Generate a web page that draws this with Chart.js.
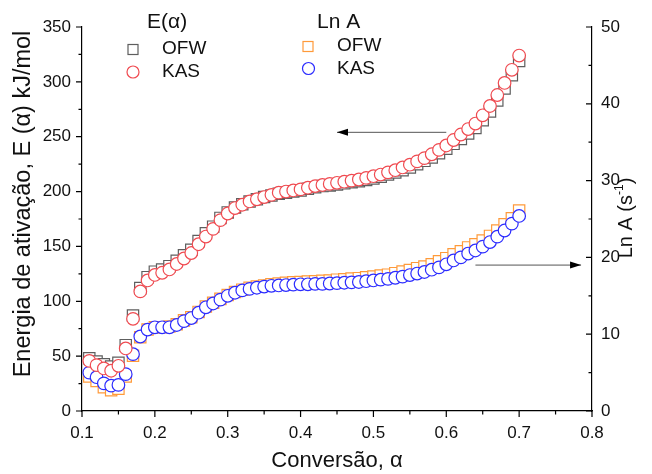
<!DOCTYPE html>
<html>
<head>
<meta charset="utf-8">
<script src="https://cdn.jsdelivr.net/npm/chart.js@4.4.0/dist/chart.umd.min.js"></script>
<style>
  html, body { margin: 0; padding: 0; background: #fff; }
</style>
</head>
<body>
<canvas id="chart" width="652" height="474"></canvas>
<script>
// Conversion values (alpha)
const alpha = [0.11, 0.12, 0.13, 0.14, 0.15, 0.16, 0.17, 0.18, 0.19, 0.20,
  0.21, 0.22, 0.23, 0.24, 0.25, 0.26, 0.27, 0.28, 0.29, 0.30,
  0.31, 0.32, 0.33, 0.34, 0.35, 0.36, 0.37, 0.38, 0.39, 0.40,
  0.41, 0.42, 0.43, 0.44, 0.45, 0.46, 0.47, 0.48, 0.49, 0.50,
  0.51, 0.52, 0.53, 0.54, 0.55, 0.56, 0.57, 0.58, 0.59, 0.60,
  0.61, 0.62, 0.63, 0.64, 0.65, 0.66, 0.67, 0.68, 0.69, 0.70];

// Activation energy E(alpha), kJ/mol
const eOFW = [48, 45, 42.5, 40.5, 44, 60, 87, 112, 122, 127,
  129, 132, 137, 142, 147, 155, 162, 168, 176, 181,
  185.5, 188.5, 191, 193, 195, 196.5, 198, 199, 200, 201,
  202.5, 204, 205, 205.5, 206.5, 207.5, 208.5, 209.5, 210.5, 212,
  213.5, 215.5, 217.5, 219.5, 222, 225, 228, 231, 235, 239,
  243.5, 248, 253, 258, 265, 273, 283, 294, 306, 319];
const eKAS = [45.7, 41.8, 38.8, 36.7, 41.2, 57, 84, 109, 119, 124,
  126, 129, 134, 139, 144, 152, 159, 166, 174, 180,
  185, 188, 191, 193, 195, 197, 199, 200, 201, 202,
  203.5, 205, 206, 207, 208, 209, 210, 211, 212.5, 214,
  215.5, 217.5, 219.5, 222, 224.5, 227.5, 230.5, 234, 238, 242,
  247, 252, 257, 262, 269.5, 278, 288, 299, 311, 324];

// Ln A (s-1)
const lnOFW = [4.5, 3.9, 3.1, 2.7, 2.9, 4.5, 7.2, 9.6, 10.6, 10.9,
  10.9, 11.0, 11.3, 11.8, 12.2, 12.9, 13.6, 14.1, 14.6, 15.1,
  15.5, 15.8, 16.05, 16.2, 16.35, 16.5, 16.6, 16.7, 16.75, 16.8,
  16.85, 16.9, 16.95, 17.0, 17.1, 17.15, 17.25, 17.3, 17.4, 17.5,
  17.65, 17.75, 17.95, 18.15, 18.35, 18.6, 18.8, 19.1, 19.5, 19.9,
  20.4, 20.8, 21.3, 21.7, 22.2, 22.8, 23.5, 24.3, 25.1, 26.1];
const lnKAS = [5.0, 4.4, 3.6, 3.3, 3.4, 4.8, 7.4, 9.7, 10.6, 10.9,
  10.9, 10.9, 11.2, 11.7, 12.1, 12.8, 13.5, 14.0, 14.5, 15.0,
  15.4, 15.7, 15.9, 16.05, 16.2, 16.3, 16.35, 16.4, 16.45, 16.5,
  16.5, 16.55, 16.55, 16.6, 16.65, 16.7, 16.75, 16.8, 16.9, 17.0,
  17.1, 17.2, 17.35, 17.5, 17.7, 17.9, 18.1, 18.4, 18.7, 19.1,
  19.6, 20.0, 20.5, 20.9, 21.4, 22.0, 22.7, 23.5, 24.4, 25.4];

// Axis ticks
const xMajor = [0.1, 0.2, 0.3, 0.4, 0.5, 0.6, 0.7, 0.8];
const xMinor = [0.15, 0.25, 0.35, 0.45, 0.55, 0.65, 0.75];
const eMajor = [0, 50, 100, 150, 200, 250, 300, 350];
const eMinor = [25, 75, 125, 175, 225, 275, 325];
const lnMajor = [0, 10, 20, 30, 40, 50];
const lnMinor = [5, 15, 25, 35, 45];

const GRAY = "#5e5e5e";
const RED = "#f04a50";
const ORANGE = "#ff9a3a";
const BLUE = "#2b2bff";
const FONT = "'Liberation Sans', Arial, sans-serif";

const pts = (ys) => alpha.map((a, i) => ({ x: a, y: ys[i] }));

function series(label, ys, axis, color, shape, r, order) {
  return {
    label,
    data: pts(ys),
    yAxisID: axis,
    showLine: false,
    pointStyle: shape,
    pointRadius: r,
    pointHoverRadius: r,
    pointBorderWidth: 1.2,
    borderColor: color,
    backgroundColor: "#fff",
    order
  };
}

// Axis decorations, y titles, arrows and the two-column legend
const extras = {
  id: "extras",
  afterDraw(chart) {
    const ctx = chart.ctx;
    const sx = chart.scales.x, sE = chart.scales.yE, sL = chart.scales.yLn;
    const a = chart.chartArea;
    ctx.save();
    ctx.strokeStyle = "#000";
    ctx.lineWidth = 1.2;
    ctx.beginPath();
    xMajor.forEach(v => { const p = sx.getPixelForValue(v); ctx.moveTo(p, a.bottom); ctx.lineTo(p, a.bottom + 6); });
    xMinor.forEach(v => { const p = sx.getPixelForValue(v); ctx.moveTo(p, a.bottom); ctx.lineTo(p, a.bottom + 3.5); });
    eMajor.forEach(v => { const p = sE.getPixelForValue(v); ctx.moveTo(a.left, p); ctx.lineTo(a.left - 6, p); });
    eMinor.forEach(v => { const p = sE.getPixelForValue(v); ctx.moveTo(a.left, p); ctx.lineTo(a.left - 3.5, p); });
    lnMajor.forEach(v => { const p = sL.getPixelForValue(v); ctx.moveTo(a.right, p); ctx.lineTo(a.right - 6, p); });
    lnMinor.forEach(v => { const p = sL.getPixelForValue(v); ctx.moveTo(a.right, p); ctx.lineTo(a.right - 3.5, p); });
    ctx.stroke();

    // y axis titles
    ctx.fillStyle = "#111";
    ctx.textBaseline = "middle";
    ctx.textAlign = "center";
    ctx.save();
    ctx.translate(24, 204);
    ctx.rotate(-Math.PI / 2);
    ctx.font = "23.5px " + FONT;
    ctx.fillText("Energia de ativa\u00e7\u00e3o, E (\u03b1) kJ/mol", 0, 0);
    ctx.restore();

    ctx.save();
    ctx.translate(626, 218);
    ctx.rotate(-Math.PI / 2);
    ctx.textAlign = "left";
    ctx.font = "20px " + FONT;
    const t1 = "Ln A (s", t2 = "-1", t3 = ")";
    const w1 = ctx.measureText(t1).width, w3 = ctx.measureText(t3).width;
    ctx.font = "12px " + FONT;
    const w2 = ctx.measureText(t2).width;
    const x0 = -(w1 + w2 + w3) / 2;
    ctx.font = "20px " + FONT;
    ctx.fillText(t1, x0, 0);
    ctx.fillText(t3, x0 + w1 + w2, 0);
    ctx.font = "12px " + FONT;
    ctx.fillText(t2, x0 + w1, -6);
    ctx.restore();

    // arrows
    function arrow(x1, y1, x2, y2) {
      ctx.strokeStyle = "#555";
      ctx.lineWidth = 1;
      ctx.beginPath();
      ctx.moveTo(x1, y1);
      ctx.lineTo(x2, y2);
      ctx.stroke();
      const dir = Math.sign(x2 - x1);
      ctx.fillStyle = "#000";
      ctx.beginPath();
      ctx.moveTo(x2, y2);
      ctx.lineTo(x2 - dir * 11, y2 - 3.5);
      ctx.lineTo(x2 - dir * 11, y2 + 3.5);
      ctx.closePath();
      ctx.fill();
    }
    const yA = sE.getPixelForValue(254);
    arrow(sx.getPixelForValue(0.6), yA, sx.getPixelForValue(0.45), yA);
    const yB = sL.getPixelForValue(19);
    arrow(sx.getPixelForValue(0.64), yB, sx.getPixelForValue(0.785), yB);

    // legend
    ctx.fillStyle = "#111";
    ctx.textBaseline = "middle";
    ctx.textAlign = "left";
    ctx.font = "21px " + FONT;
    ctx.fillText("E(\u03b1)", 147, 22);
    ctx.fillText("Ln A", 317, 22);
    ctx.font = "19px " + FONT;
    ctx.fillText("OFW", 162, 49);
    ctx.fillText("KAS", 162, 72);
    ctx.fillText("OFW", 337, 46);
    ctx.fillText("KAS", 337, 69);
    ctx.lineWidth = 1.2;
    ctx.strokeStyle = GRAY;
    ctx.strokeRect(128, 44.5, 10, 10);
    ctx.strokeStyle = RED;
    ctx.beginPath(); ctx.arc(133, 72, 6, 0, Math.PI * 2); ctx.stroke();
    ctx.strokeStyle = ORANGE;
    ctx.strokeRect(303, 41.5, 10, 10);
    ctx.strokeStyle = BLUE;
    ctx.beginPath(); ctx.arc(308.5, 68.5, 6, 0, Math.PI * 2); ctx.stroke();
    ctx.restore();
  }
};

const tickFont = { family: FONT, size: 17 };

new Chart(document.getElementById("chart"), {
  type: "scatter",
  data: {
    datasets: [
      series("KAS E", eKAS, "yE", RED, "circle", 6.3, 0),
      series("KAS LnA", lnKAS, "yLn", BLUE, "circle", 6.3, 1),
      series("OFW E", eOFW, "yE", GRAY, "rect", 8, 2),
      series("OFW LnA", lnOFW, "yLn", ORANGE, "rect", 8, 3)
    ]
  },
  options: {
    responsive: false,
    animation: false,
    events: [],
    layout: { padding: { top: 27, left: 0, right: 0, bottom: 0 } },
    plugins: { legend: { display: false }, tooltip: { enabled: false } },
    scales: {
      x: {
        type: "linear",
        min: 0.1,
        max: 0.8,
        grid: { display: false, drawTicks: false },
        border: { display: true, color: "#000", width: 1.2 },
        ticks: { stepSize: 0.1, padding: 12, color: "#111", font: tickFont, callback: v => v.toFixed(1) },
        title: { display: true, text: "Convers\u00e3o, \u03b1", color: "#111", font: { family: FONT, size: 22 }, padding: { top: 0, bottom: 0 } },
        afterFit: s => { s.height = 63; }
      },
      yE: {
        position: "left",
        min: 0,
        max: 350,
        grid: { display: false, drawTicks: false },
        border: { display: true, color: "#000", width: 1.2 },
        ticks: { stepSize: 50, padding: 11, color: "#111", font: tickFont },
        afterFit: s => { s.width = 82; }
      },
      yLn: {
        position: "right",
        min: 0,
        max: 50,
        grid: { display: false, drawTicks: false },
        border: { display: true, color: "#000", width: 1.2 },
        ticks: { stepSize: 10, padding: 9, color: "#111", font: tickFont },
        afterFit: s => { s.width = 60; }
      }
    }
  },
  plugins: [extras]
});
</script>
</body>
</html>
